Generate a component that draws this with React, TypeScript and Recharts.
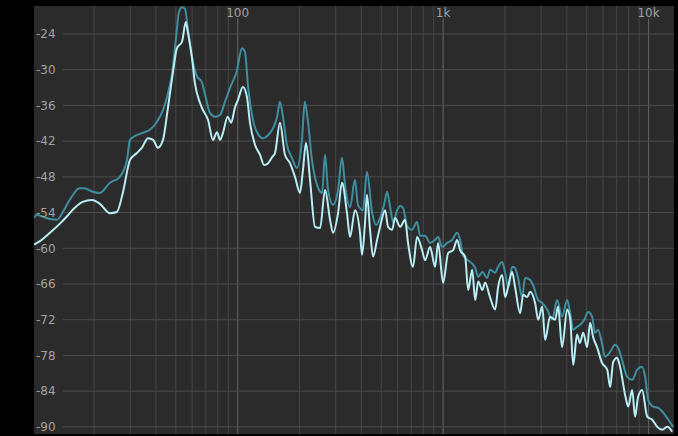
import { LineChart, Line, XAxis, YAxis, CartesianGrid, ReferenceLine } from 'recharts'

// Spectrum traces: frequency (Hz) and level (dB)
const darkHz = [
  10.2, 10.5, 11.3, 12.2, 13.2, 14.1, 15.2, 17.0, 17.9, 19.7,
  21.3, 23.9, 26.7, 28.9, 29.9, 32.3, 34.6, 37.4, 40.4, 43.3,
  45.6, 47.8, 50.0, 51.8, 53.6, 55.4, 57.3, 59.9, 63.4, 66.9,
  69.4, 73.4, 77.7, 82.1, 86.7, 92.9, 98.8, 104.9, 108.5, 112.2,
  117.4, 124.1, 133.0, 140.7, 147.3, 155.6, 160.6, 166.1, 173.6, 183.6,
  194.1, 205.6, 212.2, 219.3, 229.9, 243.6, 257.5, 266.2, 275.3, 291.1,
  308.0, 321.9, 333.1, 352.2, 372.6, 384.9, 407.1, 425.8, 450.8, 471.6,
  493.4, 516.2, 533.9, 552.1, 571.2, 597.4, 618.0, 638.1, 667.4, 705.9,
  746.7, 772.2, 816.9, 864.0, 913.8, 945.1, 988.3, 1046, 1106, 1170,
  1210, 1252, 1324, 1385, 1433, 1482, 1551, 1638, 1694, 1792,
  1853, 1938, 2004, 2072, 2168, 2240, 2317, 2422, 2506, 2654,
  2741, 2903, 3039, 3209, 3393, 3588, 3793, 4017, 4157, 4298,
  4485, 4633, 4870, 5080, 5313, 5490, 5677, 5927, 6125, 6504,
  6879, 7115, 7424, 7872, 8323, 8800, 9306, 9627, 9966, 10541,
  11148, 11782, 12488, 13176,
]
const darkDb = [
  -54.9, -54.4, -54.7, -55.1, -55.2, -53.9, -51.9, -49.9, -49.9, -50.5,
  -50.7, -49.0, -48.0, -45.2, -41.8, -41.0, -40.6, -40.1, -38.8, -36.8,
  -34.2, -30.9, -25.0, -20.3, -19.5, -19.8, -23.3, -28.0, -31.1, -32.1,
  -34.2, -37.3, -37.9, -37.6, -35.4, -32.6, -30.4, -26.4, -27.0, -32.6,
  -37.6, -40.5, -41.5, -41.0, -40.1, -37.9, -35.4, -37.9, -42.6, -44.8,
  -46.5, -41.8, -35.4, -38.4, -45.2, -49.4, -50.7, -44.3, -50.2, -52.7,
  -50.2, -44.8, -49.4, -53.1, -48.5, -52.7, -53.6, -47.2, -53.9, -56.1,
  -54.9, -52.7, -50.5, -53.1, -55.6, -53.6, -52.9, -53.2, -56.2, -56.9,
  -55.6, -57.9, -57.9, -59.1, -58.6, -58.1, -59.8, -59.1, -58.6, -57.4,
  -58.6, -61.3, -62.0, -62.6, -63.3, -64.8, -64.0, -65.0, -63.6, -64.1,
  -63.1, -62.3, -64.1, -66.5, -63.1, -63.3, -65.0, -68.2, -65.0, -65.3,
  -66.2, -68.7, -69.2, -70.3, -72.0, -68.7, -71.5, -68.7, -70.9, -73.7,
  -73.2, -72.9, -72.0, -70.7, -71.5, -74.2, -73.7, -75.9, -78.2, -77.4,
  -76.2, -76.7, -78.7, -81.6, -82.1, -80.4, -79.9, -81.6, -85.5, -86.6,
  -86.8, -87.6, -88.8, -90.0,
]

const lightHz = [
  10.2, 10.9, 12.2, 13.6, 14.7, 16.1, 17.6, 19.5, 21.3, 23.9,
  25.8, 27.6, 29.9, 32.3, 34.2, 36.6, 38.8, 40.9, 43.3, 45.6,
  48.4, 50.6, 53.6, 55.9, 57.3, 59.9, 61.9, 65.6, 67.8, 71.7,
  75.8, 79.3, 82.1, 84.8, 89.4, 92.9, 97.1, 100.3, 106.1, 111.0,
  114.8, 121.4, 128.5, 134.4, 140.7, 147.0, 152.0, 160.6, 169.9, 179.7,
  190.1, 201.1, 207.9, 215.1, 225.0, 237.9, 251.8, 266.2, 281.6, 291.1,
  308.0, 321.9, 340.5, 352.2, 372.6, 394.0, 403.0, 416.7, 425.8, 440.9,
  456.0, 476.9, 493.4, 521.9, 539.7, 564.5, 583.8, 618.0, 652.6, 674.9,
  713.8, 746.7, 789.7, 816.9, 864.0, 913.8, 945.1, 1000, 1058, 1119,
  1170, 1210, 1280, 1324, 1385, 1433, 1482, 1551, 1601, 1694,
  1792, 1853, 1938, 2004, 2072, 2168, 2240, 2371, 2452, 2563,
  2654, 2804, 2903, 3039, 3137, 3316, 3508, 3628, 3793, 4017,
  4157, 4298, 4485, 4633, 4807, 5023, 5194, 5373, 5625, 5927,
  6289, 6504, 6726, 7027, 7263, 7727, 7961, 8323, 8600, 8890,
  9306, 9855, 10424, 11025, 11661, 12325, 13035,
]
const lightDb = [
  -59.4, -58.8, -57.4, -55.9, -54.7, -53.2, -52.2, -51.9, -52.5, -54.1,
  -53.9, -50.7, -45.2, -44.0, -43.1, -41.5, -41.8, -43.1, -41.8, -36.8,
  -30.5, -26.4, -25.3, -22.0, -23.8, -27.9, -32.2, -35.6, -36.8, -38.4,
  -41.8, -40.5, -41.8, -40.6, -37.9, -38.9, -36.3, -35.1, -32.9, -34.6,
  -38.9, -42.6, -44.3, -46.0, -45.7, -44.7, -44.0, -38.9, -44.3, -45.7,
  -48.0, -50.7, -46.8, -42.3, -48.5, -56.4, -56.6, -50.2, -55.2, -57.4,
  -54.1, -49.0, -54.1, -58.1, -53.6, -57.4, -61.1, -55.7, -51.0, -56.9,
  -61.4, -58.6, -56.4, -53.6, -56.4, -56.9, -54.9, -56.4, -55.2, -59.1,
  -63.1, -58.1, -60.3, -62.0, -59.8, -63.1, -59.1, -65.8, -60.8, -60.3,
  -58.6, -60.3, -61.4, -67.0, -63.6, -68.7, -65.6, -67.0, -65.8, -68.3,
  -70.3, -66.5, -64.5, -68.2, -66.5, -64.0, -66.5, -70.9, -67.8, -68.2,
  -67.3, -69.2, -72.0, -69.8, -75.4, -71.5, -72.0, -69.8, -76.6, -70.3,
  -72.0, -79.6, -74.5, -75.9, -74.2, -76.6, -72.5, -74.9, -76.7, -79.2,
  -80.4, -83.3, -79.1, -78.4, -79.9, -85.0, -86.6, -83.8, -88.3, -85.0,
  -83.8, -88.3, -88.8, -90.0, -90.5, -90.0, -90.8,
]

const gridHz = [
  20, 30, 40, 50, 60, 70, 80, 90,
  200, 300, 400, 500, 600, 700, 800, 900,
  2000, 3000, 4000, 5000, 6000, 7000, 8000, 9000,
]
const labelledHz = [100, 1000, 10000]
const dbTicks = [-24, -30, -36, -42, -48, -54, -60, -66, -72, -78, -84, -90]

const HZ_DOMAIN: [number, number] = [10.2, 13300]
const DB_DOMAIN: [number, number] = [-91.2, -19.3]
const GRID_START_HZ = 14.1 // horizontal lines begin right of the dB labels
const LABEL_GAP_DB = -21.4 // labelled verticals stop under the Hz text

const toPoints = (hz: number[], db: number[]) => hz.map((f, i) => ({ hz: f, db: db[i] }))
const darkData = toPoints(darkHz, darkDb)
const lightData = toPoints(lightHz, lightDb)

const formatHz = (f: number) => (f >= 1000 ? `${f / 1000}k` : `${f}`)

const labelStyle = { fill: '#a2a2a2', fontSize: 12, fontFamily: 'DejaVu Sans, sans-serif' }

export default function App() {
  return (
    <div style={{ position: 'fixed', left: 0, top: 0, width: 678, height: 436, background: '#000' }}>
      <LineChart width={678} height={436} margin={{ top: 6, right: 4, bottom: 2, left: 34 }}>
        <CartesianGrid fill="#2b2b2b" horizontal={false} vertical={false} />
        <XAxis
          dataKey="hz"
          type="number"
          scale="log"
          domain={HZ_DOMAIN}
          allowDataOverflow
          orientation="top"
          mirror
          ticks={labelledHz}
          interval={0}
          tickFormatter={formatHz}
          axisLine={false}
          tickLine={false}
          tickSize={0}
          tickMargin={2}
          tick={labelStyle}
        />
        <YAxis
          type="number"
          domain={DB_DOMAIN}
          allowDataOverflow
          mirror
          ticks={dbTicks}
          interval={0}
          axisLine={false}
          tickLine={false}
          tickSize={0}
          tickMargin={2}
          tick={labelStyle}
        />

        {gridHz.map((f) => (
          <ReferenceLine key={`v-${f}`} x={f} stroke="#474747" strokeWidth={1} />
        ))}
        {labelledHz.map((f) => (
          <ReferenceLine
            key={`vl-${f}`}
            segment={[{ x: f, y: LABEL_GAP_DB }, { x: f, y: DB_DOMAIN[0] }]}
            stroke="#5c5c5c"
            strokeWidth={1.2}
          />
        ))}
        {dbTicks.map((v) => (
          <ReferenceLine
            key={`h-${v}`}
            segment={[{ x: GRID_START_HZ, y: v }, { x: HZ_DOMAIN[1], y: v }]}
            stroke="#4b4b4b"
            strokeWidth={1}
          />
        ))}

        <Line
          data={darkData}
          dataKey="db"
          type="monotone"
          stroke="#3f8fa2"
          strokeWidth={2}
          dot={false}
          isAnimationActive={false}
        />
        <Line
          data={lightData}
          dataKey="db"
          type="monotone"
          stroke="#b9eef4"
          strokeWidth={2}
          dot={false}
          isAnimationActive={false}
        />
      </LineChart>
    </div>
  )
}
